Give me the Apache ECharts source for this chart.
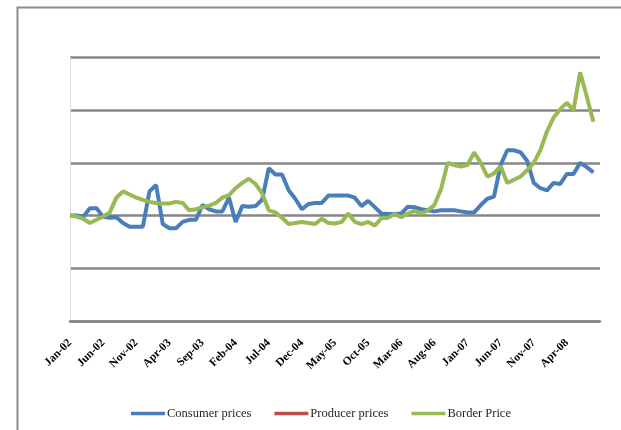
<!DOCTYPE html>
<html>
<head>
<meta charset="utf-8">
<script src="https://cdn.jsdelivr.net/npm/echarts@6/dist/echarts.min.js"></script>
<style>html,body{margin:0;padding:0;background:#fff;}#c{width:621px;height:430px;}</style>
</head>
<body>
<div id="c"></div>
<script>
var months = ['Jan','Feb','Mar','Apr','May','Jun','Jul','Aug','Sep','Oct','Nov','Dec'];
var categories = [];
for (var y = 2; y <= 8; y++) { for (var m = 0; m < 12; m++) { if (categories.length < 80) categories.push(months[m] + '-0' + y); } }

var consumerPrices = [100,100,99,107,107,99,98,98.5,93,89.5,89.5,89.5,123,129,92,88,88,94,96,96,
  110,106,104,104,117,94,109,108.5,109,115,145,139,139,124,116,106,111,112,112,119,
  119,119,119,117,109,114,108,102,101.5,101.5,102,108.5,108,106,105,104,105,105,105,104,
  103,103,110,116,118,148,162,162,160,152,131,126,124,131,130,139.5,139.5,150,146,141];
var producerPrices = [];
var borderPrice = [100.5,99,97,93,96,99,103,117,123,120,117,115,113,112,111.5,111.5,113,112,105,106,
  108,109.5,112,117,119.5,126,131,135,130,121,105,103,98,92,93,94,93,92,97,93,
  92.5,94,102,94,92,94,90.5,97.5,98,101.5,98.5,102,104.5,102,105,110,125,150,148,146.5,
  148,160,150,137,140,147,131,134,137,143,150,162,180,193,201,207,200,236,213,189];

function pairs(arr) { return arr.map(function (v, i) { return [i, v]; }); }

var chart = echarts.init(document.getElementById('c'));
chart.setOption({
  animation: false,
  backgroundColor: '#ffffff',
  graphic: [{
    type: 'rect', left: 15, top: 5, shape: { x: 0, y: 0, width: 640, height: 460 },
    style: { fill: 'none', stroke: '#8c8c8c', lineWidth: 2 }, silent: true
  }],
  grid: { left: 70, right: 21, top: 57.5, bottom: 109, containLabel: false },
  legend: {
    left: 126, top: 402, icon: 'rect', itemWidth: 34, itemHeight: 3.5, itemGap: 23,
    textStyle: { fontFamily: 'Liberation Serif', fontSize: 12.5, color: '#262626', padding: [0, 0, 0, -3] },
    data: ['Consumer prices', 'Producer prices', 'Border Price']
  },
  xAxis: {
    type: 'value', min: 0, max: 80, interval: 5,
    axisLine: { show: true, lineStyle: { color: '#868686', width: 2.5 } },
    axisTick: { show: false },
    splitLine: { show: false },
    axisLabel: {
      rotate: 45, margin: 20, fontFamily: 'Liberation Serif', fontSize: 11.5, fontWeight: 'bold', color: '#000',
      showMaxLabel: false,
      formatter: function (v) { return categories[v] || ''; }
    }
  },
  yAxis: {
    type: 'value', min: 0, max: 250, interval: 50,
    axisLabel: { show: false },
    axisTick: { show: false },
    axisLine: { show: true, lineStyle: { color: '#d9d9d9', width: 1 } },
    splitLine: { show: true, lineStyle: { color: '#868686', width: 2.5 } }
  },
  series: [
    { name: 'Consumer prices', type: 'line', data: pairs(consumerPrices), showSymbol: false, symbol: 'none',
      lineStyle: { color: '#4a7ebb', width: 4 }, itemStyle: { color: '#4a7ebb' } },
    { name: 'Producer prices', type: 'line', data: pairs(producerPrices), showSymbol: false, symbol: 'none',
      lineStyle: { color: '#be4b48', width: 4 }, itemStyle: { color: '#be4b48' } },
    { name: 'Border Price', type: 'line', data: pairs(borderPrice), showSymbol: false, symbol: 'none',
      lineStyle: { color: '#98b954', width: 4 }, itemStyle: { color: '#98b954' } }
  ]
});
</script>
</body>
</html>
